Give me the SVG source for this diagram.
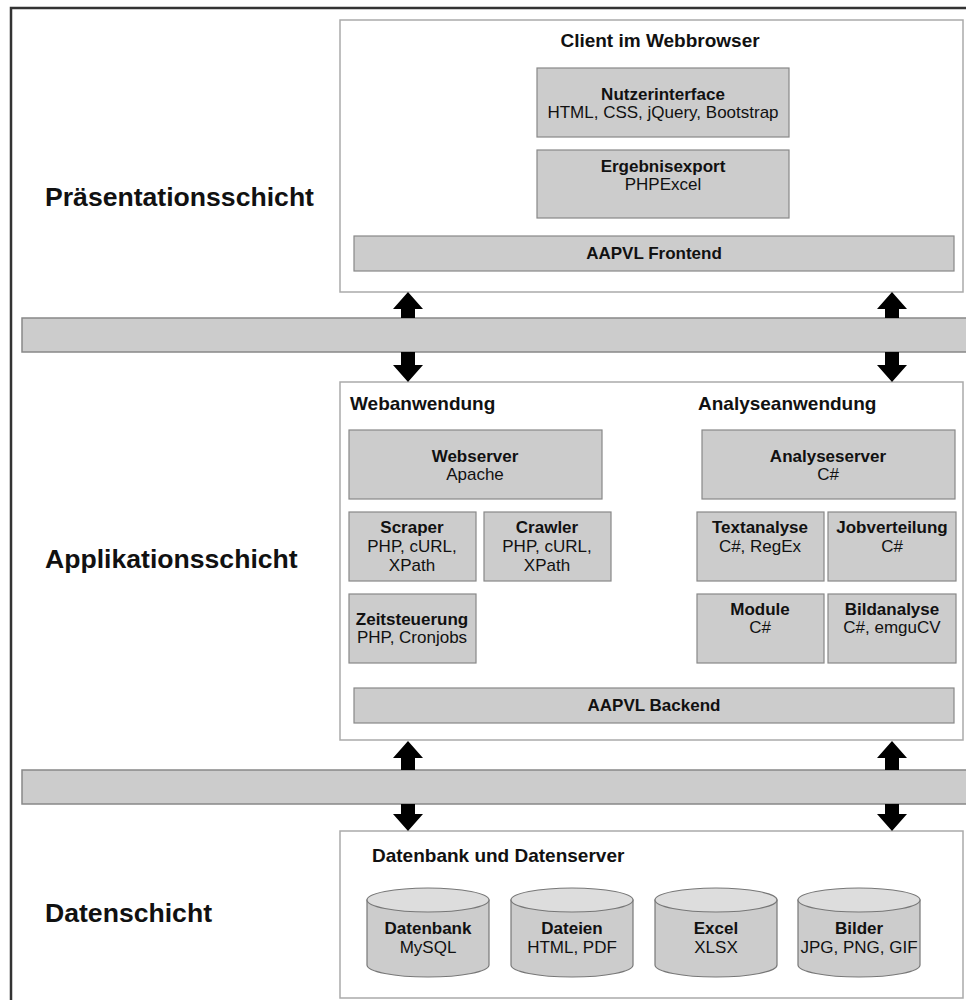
<svg xmlns="http://www.w3.org/2000/svg" width="966" height="1000" viewBox="0 0 966 1000">
<style>
.frame{fill:#fff;stroke:#333;stroke-width:2.5}
.cont{fill:#fff;stroke:#aaa;stroke-width:1.5}
.box{fill:#cccccc;stroke:#888;stroke-width:1.2}
.band{fill:#cccccc;stroke:#888;stroke-width:1.5}
.cyl{fill:#cccccc;stroke:#777;stroke-width:1.2}
.cyltop{fill:#dddddd;stroke:#777;stroke-width:1.2}
.arr{fill:#000}
text{font-family:"Liberation Sans",Arial,sans-serif;fill:#111}
.t{font-size:17px;text-anchor:middle}
.b{font-weight:bold}
.h{font-size:19px;font-weight:bold}
.layer{font-size:26.6px;font-weight:bold}
</style>
<rect class="frame" x="11" y="8" width="1000" height="1050"/>

<g id="layer-labels">
<text class="layer" x="45" y="206">Präsentationsschicht</text>
<text class="layer" x="45" y="568">Applikationsschicht</text>
<text class="layer" x="45" y="922">Datenschicht</text>
</g>

<g id="band1"><rect class="band" x="22" y="318" width="960" height="34"/></g>
<g id="band2"><rect class="band" x="22" y="770" width="960" height="34"/></g>

<g id="presentation">
<rect class="cont" x="340" y="20" width="623" height="272"/>
<text class="h" x="660" y="47" text-anchor="middle">Client im Webbrowser</text>
</g>
<g id="nutzerinterface">
<rect class="box" x="537" y="68" width="252" height="69"/>
<text class="t b" x="663" y="100">Nutzerinterface</text>
<text class="t" x="663" y="118">HTML, CSS, jQuery, Bootstrap</text>
</g>
<g id="ergebnisexport">
<rect class="box" x="537" y="150" width="252" height="68"/>
<text class="t b" x="663" y="172">Ergebnisexport</text>
<text class="t" x="663" y="190">PHPExcel</text>
</g>
<g id="frontend">
<rect class="box" x="354" y="236" width="600" height="35"/>
<text class="t b" x="654" y="259">AAPVL Frontend</text>
</g>

<g id="application">
<rect class="cont" x="340" y="382" width="623" height="358"/>
<text class="h" x="350" y="410">Webanwendung</text>
<text class="h" x="698" y="410">Analyseanwendung</text>
</g>
<g id="webserver">
<rect class="box" x="349" y="430" width="253" height="69"/>
<text class="t b" x="475" y="462">Webserver</text>
<text class="t" x="475" y="480">Apache</text>
</g>
<g id="scraper">
<rect class="box" x="349" y="512" width="127" height="69"/>
<text class="t b" x="412" y="533">Scraper</text>
<text class="t" x="412" y="552">PHP, cURL,</text>
<text class="t" x="412" y="571">XPath</text>
</g>
<g id="crawler">
<rect class="box" x="484" y="512" width="127" height="69"/>
<text class="t b" x="547" y="533">Crawler</text>
<text class="t" x="547" y="552">PHP, cURL,</text>
<text class="t" x="547" y="571">XPath</text>
</g>
<g id="zeitsteuerung">
<rect class="box" x="349" y="594" width="127" height="69"/>
<text class="t b" x="412" y="625">Zeitsteuerung</text>
<text class="t" x="412" y="643">PHP, Cronjobs</text>
</g>
<g id="analyseserver">
<rect class="box" x="702" y="430" width="253" height="69"/>
<text class="t b" x="828" y="462">Analyseserver</text>
<text class="t" x="828" y="480">C#</text>
</g>
<g id="textanalyse">
<rect class="box" x="697" y="512" width="127" height="69"/>
<text class="t b" x="760" y="533">Textanalyse</text>
<text class="t" x="760" y="552">C#, RegEx</text>
</g>
<g id="jobverteilung">
<rect class="box" x="828" y="512" width="128" height="69"/>
<text class="t b" x="892" y="533">Jobverteilung</text>
<text class="t" x="892" y="552">C#</text>
</g>
<g id="module">
<rect class="box" x="697" y="594" width="127" height="69"/>
<text class="t b" x="760" y="615">Module</text>
<text class="t" x="760" y="633">C#</text>
</g>
<g id="bildanalyse">
<rect class="box" x="828" y="594" width="128" height="69"/>
<text class="t b" x="892" y="615">Bildanalyse</text>
<text class="t" x="892" y="633">C#, emguCV</text>
</g>
<g id="backend">
<rect class="box" x="354" y="688" width="600" height="35"/>
<text class="t b" x="654" y="711">AAPVL Backend</text>
</g>

<g id="data">
<rect class="cont" x="340" y="831" width="623" height="167"/>
<text class="h" x="372" y="862">Datenbank und Datenserver</text>
</g>
<g id="datenbank">
<path class="cyl" d="M367,900 V965 A61,12 0 0 0 489,965 V900 Z"/>
<ellipse class="cyltop" cx="428" cy="900" rx="61" ry="12"/>
<text class="t b" x="428" y="934">Datenbank</text>
<text class="t" x="428" y="953">MySQL</text>
</g>
<g id="dateien">
<path class="cyl" d="M511,900 V965 A61,12 0 0 0 633,965 V900 Z"/>
<ellipse class="cyltop" cx="572" cy="900" rx="61" ry="12"/>
<text class="t b" x="572" y="934">Dateien</text>
<text class="t" x="572" y="953">HTML, PDF</text>
</g>
<g id="excel">
<path class="cyl" d="M655,900 V965 A61,12 0 0 0 777,965 V900 Z"/>
<ellipse class="cyltop" cx="716" cy="900" rx="61" ry="12"/>
<text class="t b" x="716" y="934">Excel</text>
<text class="t" x="716" y="953">XLSX</text>
</g>
<g id="bilder">
<path class="cyl" d="M798,900 V965 A61,12 0 0 0 920,965 V900 Z"/>
<ellipse class="cyltop" cx="859" cy="900" rx="61" ry="12"/>
<text class="t b" x="859" y="934">Bilder</text>
<text class="t" x="859" y="953">JPG, PNG, GIF</text>
</g>

<g id="connectors">
<path class="arr" d="M408,292 L423,309 L415,309 L415,318 L401,318 L401,309 L393,309 Z"/>
<path class="arr" d="M408,382 L423,365 L415,365 L415,352 L401,352 L401,365 L393,365 Z"/>
<path class="arr" d="M892,292 L907,309 L899,309 L899,318 L885,318 L885,309 L877,309 Z"/>
<path class="arr" d="M892,382 L907,365 L899,365 L899,352 L885,352 L885,365 L877,365 Z"/>
<path class="arr" d="M408,741 L423,758 L415,758 L415,770 L401,770 L401,758 L393,758 Z"/>
<path class="arr" d="M408,831 L423,814 L415,814 L415,804 L401,804 L401,814 L393,814 Z"/>
<path class="arr" d="M892,741 L907,758 L899,758 L899,770 L885,770 L885,758 L877,758 Z"/>
<path class="arr" d="M892,831 L907,814 L899,814 L899,804 L885,804 L885,814 L877,814 Z"/>
</g>
</svg>
